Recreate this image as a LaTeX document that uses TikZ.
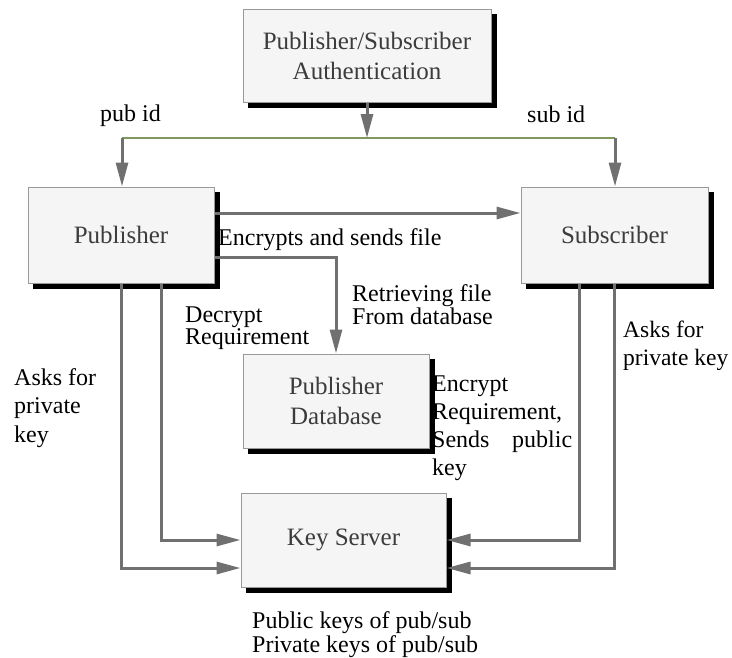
\documentclass[tikz,border=0pt]{standalone}
\usepackage{fontspec}
\setmainfont{Liberation Serif}
\usetikzlibrary{arrows.meta}
\definecolor{linegray}{RGB}{112,112,112}
\definecolor{busgreen}{RGB}{128,153,92}
\definecolor{boxtext}{RGB}{60,60,60}
\newcommand{\lblfont}{\fontsize{24}{28}\selectfont}

\begin{document}
\begin{tikzpicture}[x=1pt,y=-1pt,>={Triangle[length=24pt,width=12pt]},
  boxshadow/.style={fill=black,draw=black,line width=1pt},
  box/.style={draw=gray!80,line width=1pt,fill=gray!8,
    inner sep=0pt,align=center,text=boxtext,font=\fontsize{25}{30}\selectfont,
    preaction={boxshadow,transform canvas={xshift=5.5pt,yshift=-5.5pt}}},
  line/.style={draw=linegray,line width=3pt},
  bus/.style={draw=busgreen,line width=1.2pt},
  lbl/.style={inner sep=0pt,align=left,font=\lblfont}]
\useasboundingbox (0,0) rectangle (732,657);

\node[box,minimum width=248pt,minimum height=93pt](auth) at (367,55.5){Publisher/Subscriber\\Authentication};
\node[box,minimum width=186pt,minimum height=96pt](pub) at (121,235){Publisher};
\node[box,minimum width=187pt,minimum height=96pt](sub) at (614.5,235){Subscriber};
\node[box,minimum width=186pt,minimum height=94pt](db) at (336,401){Publisher\\Database};
\node[box,minimum width=205pt,minimum height=94pt](ks) at (343.5,540){Key Server};

\coordinate (busL) at (122,138);
\coordinate (busR) at (615,138);

\draw[bus] (busL) -- (busR);
\draw[line,->] (auth.south) -- (auth.south |- busL);
\draw[line,->] (busL) -- (busL |- pub.north);
\draw[line,->] (busR) -- (busR |- sub.north);
\draw[line,->] ([yshift=22pt]pub.east) -- ([yshift=22pt]sub.west);
\draw[line,->] ([yshift=-22pt]pub.east) -| (db.north);
\draw[line,->] (pub.south) |- ([yshift=-28pt]ks.west);
\draw[line,->] ([xshift=40pt]pub.south) |- (ks.west);
\draw[line,->] ([xshift=-35pt]sub.south) |- (ks.east);
\draw[line,->] (sub.south) |- ([yshift=-28pt]ks.east);

\node[lbl,anchor=base west](pubid) at (100,121){pub id};
\node[lbl,anchor=base west](subid) at (527,122){sub id};
\node[lbl,anchor=west](encsend) at (218,240){Encrypts and sends file};
\node[lbl,anchor=west,font=\fontsize{24}{23}\selectfont](retr) at (352,304.5){Retrieving file\\From database};
\node[lbl,anchor=west,font=\fontsize{24}{22}\selectfont](decr) at (185,328){Decrypt\\Requirement};
\node[lbl,anchor=west,font=\fontsize{24}{28.5}\selectfont](askpub) at (14,408){Asks for\\private\\key};
\node[lbl,anchor=west,font=\fontsize{23.5}{28}\selectfont](asksub) at (623,346){Asks for\\private key};
\node[lbl,anchor=west,text width=140pt](encr) at (432,428){Encrypt\\Requirement,\\Sends\hfill public\\key};
\node[lbl,anchor=west,font=\fontsize{24}{24}\selectfont](keys) at (252,635){Public keys of pub/sub\\Private keys of pub/sub};
\end{tikzpicture}
\end{document}
